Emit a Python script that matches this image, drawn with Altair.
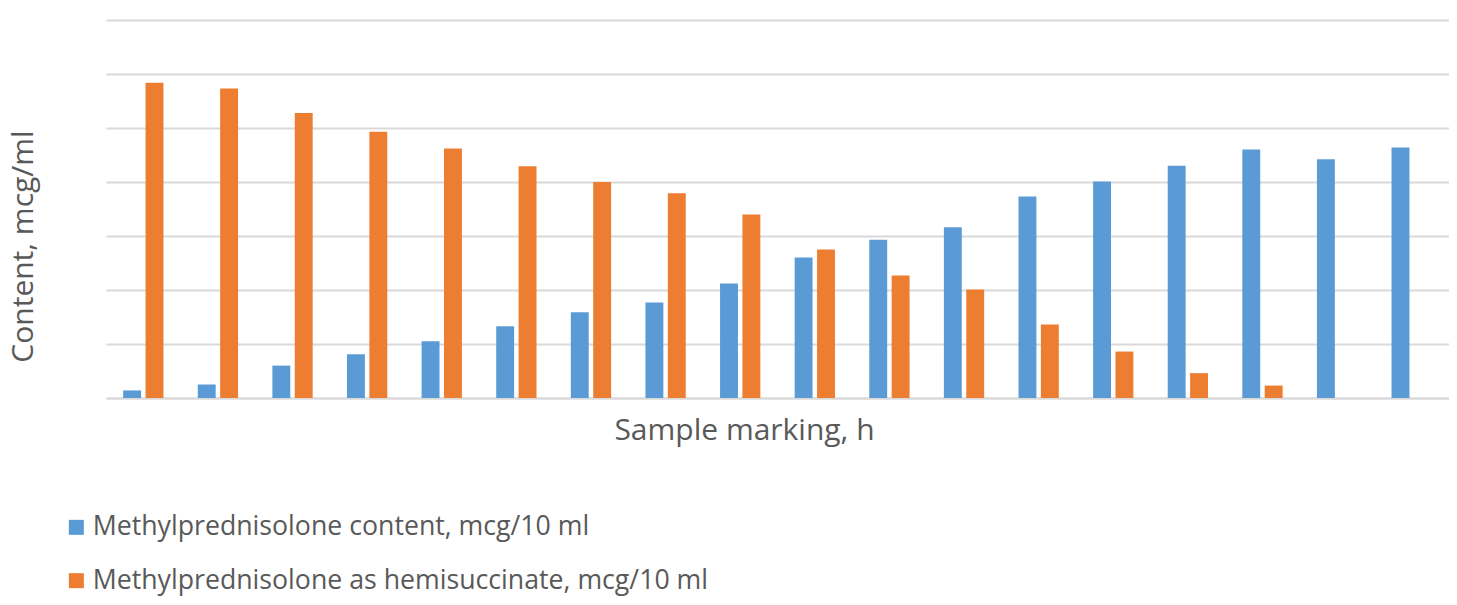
import altair as alt
import pandas as pd

samples = [str(i) for i in range(1, 19)]
series_names = [
    "Methylprednisolone content, mcg/10 ml",
    "Methylprednisolone as hemisuccinate, mcg/10 ml",
]
content = [0.14, 0.25, 0.60, 0.81, 1.05, 1.33, 1.59, 1.77, 2.12, 2.60,
           2.93, 3.16, 3.73, 4.01, 4.30, 4.60, 4.42, 4.64]
hemisuccinate = [5.84, 5.73, 5.28, 4.93, 4.62, 4.29, 4.00, 3.79, 3.40, 2.75,
                 2.27, 2.01, 1.36, 0.86, 0.46, 0.23, None, None]
colors = ["#5B9BD5", "#ED7D31"]

rows = []
for i, s in enumerate(samples):
    rows.append({"sample": s, "series": series_names[0], "value": content[i]})
    if hemisuccinate[i] is not None:
        rows.append({"sample": s, "series": series_names[1], "value": hemisuccinate[i]})
df = pd.DataFrame(rows)

FONT = "Open Sans"
TXT = "#595959"
GRID = "#D9D9D9"

chart = alt.Chart(df).mark_bar().encode(
    x=alt.X("sample:N", sort=samples,
            scale=alt.Scale(paddingInner=0.46, paddingOuter=0.23),
            axis=alt.Axis(title="Sample marking, h", labels=False, ticks=False,
                          domainColor=GRID, domainWidth=2,
                          titleFont=FONT, titleFontSize=30, titleFontWeight="normal",
                          titleColor=TXT, titleX=638, titleY=41,
                          titleBaseline="alphabetic", titleAlign="center")),
    xOffset=alt.XOffset("series:N", sort=series_names,
                        scale=alt.Scale(paddingInner=0.2)),
    y=alt.Y("value:Q", scale=alt.Scale(domain=[0, 7], nice=False),
            axis=alt.Axis(title="Content, mcg/ml", labels=False, ticks=False,
                          domain=False, grid=True, gridColor=GRID, gridWidth=2,
                          values=[0, 1, 2, 3, 4, 5, 6, 7],
                          titleFont=FONT, titleFontSize=30, titleFontWeight="normal",
                          titleColor=TXT, titleX=-83, titleY=226, titleAngle=-90,
                          titleBaseline="middle", titleAlign="center")),
    color=alt.Color("series:N", sort=series_names,
                    scale=alt.Scale(domain=series_names, range=colors),
                    legend=alt.Legend(title=None, orient="none", legendX=-43, legendY=494,
                                      direction="vertical", symbolType="square",
                                      symbolSize=225, symbolStrokeWidth=0,
                                      labelFont=FONT, labelFontSize=26.7, labelColor=TXT,
                                      labelOffset=3, rowPadding=25.3, padding=0,
                                      labelLimit=1000)),
).properties(
    width=1343, height=378,
    padding={"left": 98, "top": 12, "right": 0, "bottom": 199},
    autosize=alt.AutoSizeParams(type="none"),
).configure_view(stroke=None)

chart.save("out.html", embed_options={"renderer": "svg", "actions": False})
